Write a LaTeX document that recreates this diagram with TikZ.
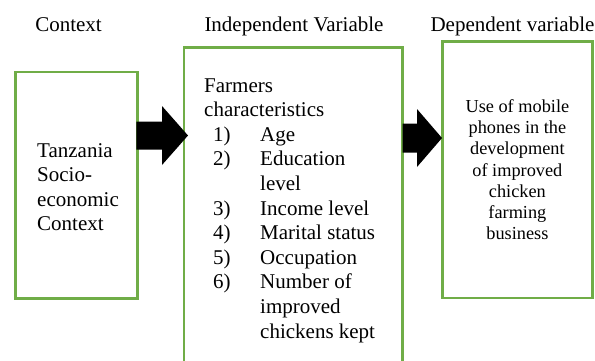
\documentclass[tikz,border=0pt]{standalone}
\usepackage{fontspec}
\setmainfont{Liberation Serif}
\usetikzlibrary{calc}
\definecolor{boxgreen}{RGB}{112,173,71}
\newcommand\itm[2]{\hspace*{9pt}\makebox[47pt][l]{#1}#2}
\newcommand\cnt[1]{\hspace*{56pt}#1}
\begin{document}
\begin{tikzpicture}[x=1pt,y=-1pt,
  frame/.style={draw=boxgreen, line width=2.4pt, inner sep=0pt, outer sep=0pt, rectangle},
  bigtext/.style={font=\fontsize{21}{24.6}\selectfont, inner sep=0pt},
  smalltext/.style={font=\fontsize{18.3}{21.2}\selectfont, inner sep=0pt}]
\useasboundingbox (0,0) rectangle (595,360);
% headings
\node[bigtext, anchor=base] (h1) at (68.5,31.5) {Context};
\node[bigtext, anchor=base] (h2) at (294,31.5) {Independent Variable};
\node[bigtext, anchor=base] (h3) at (512.5,31.5) {Dependent variable};
% frames
\node[frame, minimum width=122pt, minimum height=226.3pt] (box1) at (76.3,185.2) {};
\node[frame, minimum width=218.5pt, minimum height=330pt] (box2) at (293.25,212.3) {};
\node[frame, minimum width=149.8pt, minimum height=256.7pt] (box3) at (517.4,169.65) {};
% texts
\node[bigtext, anchor=base west] (txt1) at (37,157)
  {\begin{tabular}[t]{@{}l@{}}Tanzania\\Socio-\\economic\\Context\end{tabular}};
\node[bigtext, anchor=base west] (txt2) at (204,92)
  {\begin{tabular}[t]{@{}l@{}}Farmers\\characteristics\\
   \itm{1)}{Age}\\ \itm{2)}{Education}\\ \cnt{level}\\
   \itm{3)}{Income level}\\ \itm{4)}{Marital status}\\
   \itm{5)}{Occupation}\\ \itm{6)}{Number of}\\
   \cnt{improved}\\ \cnt{chickens kept}\end{tabular}};
\node[smalltext, anchor=base] (txt3) at (517.4,112.5)
  {\begin{tabular}[t]{@{}c@{}}Use of mobile\\phones in the\\development\\of improved\\chicken\\farming\\business\end{tabular}};
% block arrows
\coordinate (tip1) at (188,135.5);
\coordinate (tip2) at (442,138);
\fill let \p1=(box1.east), \p2=(tip1) in
  (\x1-1pt,\y2+14pt) -- (\x2-26pt,\y2+14pt) -- (\x2-26pt,\y2+29.5pt) -- (\p2)
  -- (\x2-26pt,\y2-29.5pt) -- (\x2-26pt,\y2-14pt) -- (\x1-1pt,\y2-14pt) -- cycle;
\fill let \p1=(box2.east), \p2=(tip2) in
  (\x1,\y2+14.5pt) -- (\x2-25pt,\y2+14.5pt) -- (\x2-25pt,\y2+29pt) -- (\p2)
  -- (\x2-25pt,\y2-29pt) -- (\x2-25pt,\y2-14.5pt) -- (\x1,\y2-14.5pt) -- cycle;
\end{tikzpicture}
\end{document}
